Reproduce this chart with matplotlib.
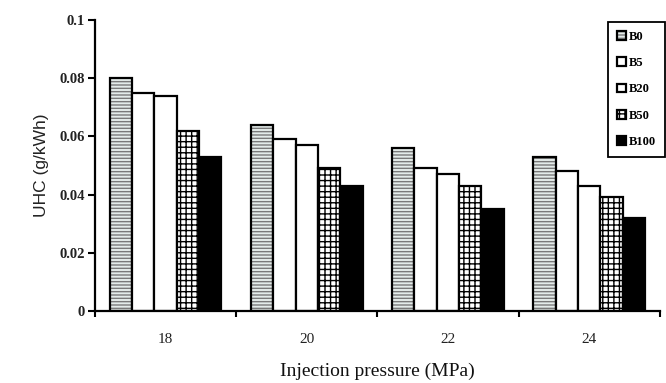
import numpy as np
import matplotlib
matplotlib.use("Agg")
import matplotlib.pyplot as plt

# ── Data ──────────────────────────────────────────────────────────────────
pressures = ["18", "20", "22", "24"]
b0   = [0.080, 0.064, 0.056, 0.053]
b5   = [0.075, 0.059, 0.049, 0.048]
b20  = [0.074, 0.057, 0.047, 0.043]
b50  = [0.062, 0.049, 0.043, 0.039]
b100 = [0.053, 0.043, 0.035, 0.032]
series_names = ["B0", "B5", "B20", "B50", "B100"]
ytick_vals   = [0, 0.02, 0.04, 0.06, 0.08, 0.1]
ytick_labels = ["0", "0.02", "0.04", "0.06", "0.08", "0.1"]

# ── Styles ────────────────────────────────────────────────────────────────
STYLES = [
    dict(facecolor="#e4ecea", hatch="-----", hatchcolor="#7a7a7a"),
    dict(facecolor="white", hatch=None, hatchcolor="black"),
    dict(facecolor="white", hatch=None, hatchcolor="black"),
    dict(facecolor="white", hatch="+++", hatchcolor="black"),
    dict(facecolor="black", hatch=None, hatchcolor="black"),
]

SERIF = ["Liberation Serif", "DejaVu Serif"]
SANS = ["Liberation Sans", "DejaVu Sans"]


def main():
    fig = plt.figure(figsize=(6.66, 3.83), dpi=100)
    ax = fig.add_axes([0.1426, 0.188, 0.848, 0.760])

    x = np.arange(len(pressures))
    width = 0.158
    data = [b0, b5, b20, b50, b100]

    handles = []
    for i, (name, vals, st) in enumerate(zip(series_names, data, STYLES)):
        offs = (i - 2) * width
        bars = ax.bar(x + offs, vals, width, facecolor=st["facecolor"],
                      edgecolor="black", linewidth=1.6, hatch=st["hatch"],
                      label=name)
        for b in bars:
            b._hatch_color = matplotlib.colors.to_rgba(st["hatchcolor"])
        handles.append(bars)

    ax.set_xlim(-0.5, 3.48)
    ax.set_ylim(0, 0.1)

    ax.set_yticks(ytick_vals)
    ax.set_yticklabels(ytick_labels, family=SERIF, fontsize=10.5,
                       fontweight="bold", color="#222222")
    ax.set_xticks(x)
    ax.set_xticklabels(pressures, family=SERIF, fontsize=11, color="#222222")
    ax.tick_params(axis="x", length=0, pad=16)
    ax.set_xticks(np.arange(-0.5, 3.6, 1.0), minor=True)
    ax.tick_params(axis="x", which="minor", length=4, width=1.5, direction="out")
    ax.tick_params(axis="y", length=5, width=1.5, direction="out", pad=2)

    for side in ("top", "right"):
        ax.spines[side].set_visible(False)
    for side in ("left", "bottom"):
        ax.spines[side].set_linewidth(1.6)

    ax.set_xlabel("Injection pressure (MPa)", family=SERIF, fontsize=14,
                  labelpad=12, color="#111111")
    ax.set_ylabel("UHC (g/kWh)", family=SANS, fontsize=12.5, labelpad=8,
                  color="#222222")

    leg = fig.legend(handles, series_names, loc="upper left",
                     bbox_to_anchor=(0.913, 0.943), frameon=True,
                     fancybox=False, edgecolor="black", framealpha=1,
                     prop=dict(family=SERIF, size=9, weight="bold"),
                     handlelength=0.7, handleheight=0.7, handletextpad=0.3,
                     labelspacing=1.15, borderpad=0.7, borderaxespad=0)
    leg.get_frame().set_linewidth(1.3)

    fig.savefig("out.png", dpi=100)
    plt.close(fig)


if __name__ == "__main__":
    main()
